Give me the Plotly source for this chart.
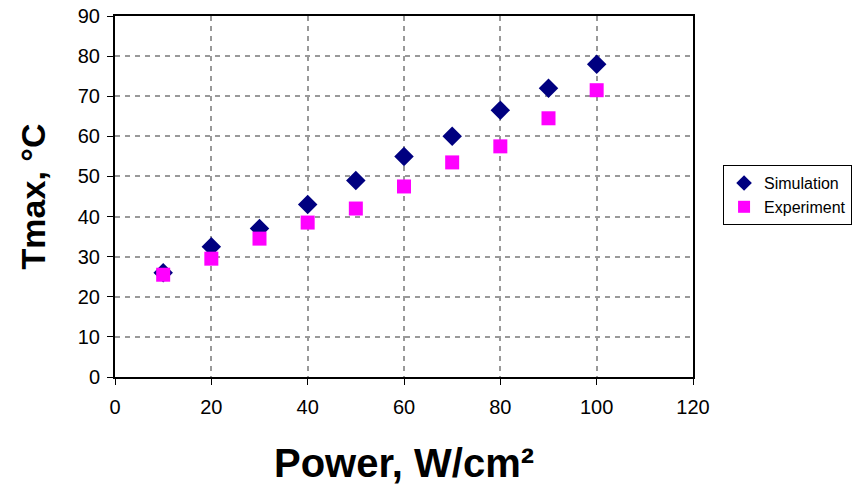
import plotly.graph_objects as go

power = [10, 20, 30, 40, 50, 60, 70, 80, 90, 100]
simulation = [26, 32.5, 37, 43, 49, 55, 60, 66.5, 72, 78]
experiment = [25.5, 29.5, 34.5, 38.5, 42, 47.5, 53.5, 57.5, 64.5, 71.5]

font = "Liberation Sans, Arial, sans-serif"

fig = go.Figure()
fig.add_trace(go.Scatter(x=power, y=simulation, mode="markers", name="Simulation",
                         marker=dict(symbol="diamond", size=15, color="#000080")))
fig.add_trace(go.Scatter(x=power, y=experiment, mode="markers", name="Experiment",
                         marker=dict(symbol="square", size=14, color="#FF00FF")))

axis_common = dict(showline=True, linecolor="black", linewidth=2, mirror=True,
                   showgrid=True, gridcolor="#999999", griddash="5px,5px", gridwidth=2,
                   ticks="outside", ticklen=6, tickcolor="black", zeroline=False,
                   automargin=False,
                   tickfont=dict(family=font, size=20, color="black"))

fig.update_layout(
    width=855, height=490,
    margin=dict(l=115, r=162, t=16, b=113, autoexpand=False),
    paper_bgcolor="white", plot_bgcolor="white",
    xaxis=dict(range=[0, 120], dtick=20, ticklabelstandoff=5,
               title=dict(text="<b>Power, W/cm²</b>", font=dict(family=font, size=40, color="black"), standoff=32),
               **axis_common),
    yaxis=dict(range=[0, 90], dtick=10, ticklabelstandoff=3,
               title=dict(text="<b>Tmax, °C</b>", font=dict(family=font, size=34, color="black"), standoff=22),
               **axis_common),
    legend=dict(x=1.052, y=0.587, xanchor="left", yanchor="top",
                bordercolor="black", borderwidth=1, bgcolor="white",
                font=dict(family=font, size=16, color="black"),
                itemsizing="constant", tracegroupgap=2),
    showlegend=True,
)

fig.write_html("out.html", config={"displayModeBar": False},
               post_script="document.body.style.margin='0';")
